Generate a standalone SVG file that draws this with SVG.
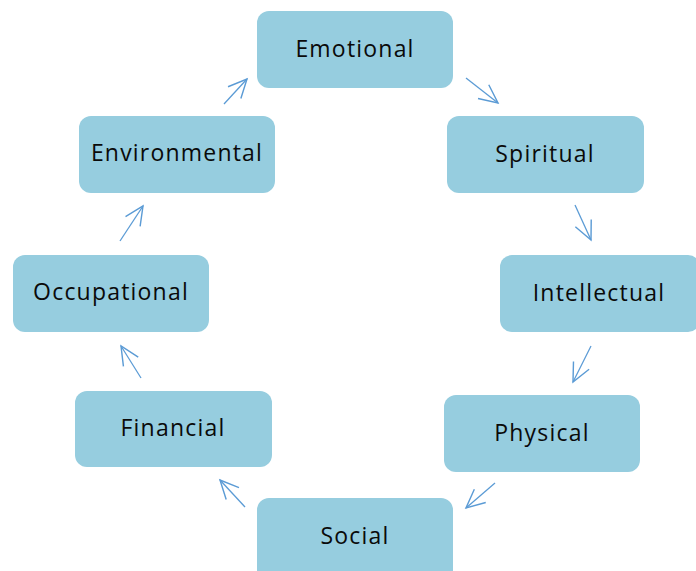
<svg xmlns="http://www.w3.org/2000/svg" width="696" height="571" viewBox="0 0 696 571">
<defs>
<style>
.box{fill:#96CDDF;}
.lbl{font-family:"Open Sans","Noto Sans",sans-serif;font-size:23px;fill:#0a0a0a;text-anchor:middle;letter-spacing:1.2px;}
.arr{stroke:#5B9BD5;stroke-width:1.3;fill:none;marker-end:url(#ah);}
</style>
<marker id="ah" markerUnits="userSpaceOnUse" markerWidth="24" markerHeight="24" viewBox="-20 -10 22 20" refX="0" refY="0" orient="auto">
<path d="M-17,-8 L0,0 L-17,8" fill="none" stroke="#5B9BD5" stroke-width="1.3"/>
</marker>
</defs>
<rect width="696" height="571" fill="#fff"/>
<g id="emotional"><rect class="box" x="257" y="11" width="196" height="77" rx="12"/><text class="lbl" x="355" y="57">Emotional</text></g>
<g id="spiritual"><rect class="box" x="447" y="116" width="197" height="77" rx="12"/><text class="lbl" x="545" y="162">Spiritual</text></g>
<g id="intellectual"><rect class="box" x="500" y="255" width="200" height="77" rx="12"/><text class="lbl" x="599" y="301">Intellectual</text></g>
<g id="physical"><rect class="box" x="444" y="395" width="196" height="77" rx="12"/><text class="lbl" x="542" y="441">Physical</text></g>
<g id="social"><rect class="box" x="257" y="498" width="196" height="85" rx="12"/><text class="lbl" x="355" y="544">Social</text></g>
<g id="financial"><rect class="box" x="75" y="391" width="197" height="76" rx="12"/><text class="lbl" x="173" y="436">Financial</text></g>
<g id="occupational"><rect class="box" x="13" y="255" width="196" height="77" rx="12"/><text class="lbl" x="111" y="300">Occupational</text></g>
<g id="environmental"><rect class="box" x="79" y="116" width="196" height="77" rx="12"/><text class="lbl" x="177" y="161">Environmental</text></g>
<g id="connectors">
<line class="arr" x1="466" y1="78" x2="498" y2="103"/>
<line class="arr" x1="575" y1="205" x2="591" y2="240"/>
<line class="arr" x1="591" y1="346" x2="573" y2="382"/>
<line class="arr" x1="495" y1="483" x2="466" y2="508"/>
<line class="arr" x1="245" y1="507" x2="220" y2="480"/>
<line class="arr" x1="141" y1="378" x2="121" y2="346"/>
<line class="arr" x1="120" y1="241" x2="143" y2="206"/>
<line class="arr" x1="224" y1="104" x2="247" y2="79"/>
</g>
</svg>
